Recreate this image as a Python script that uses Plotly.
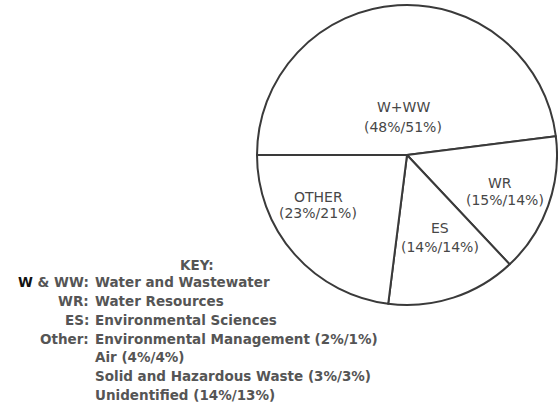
import plotly.graph_objects as go

# ---- data ----
categories = ["W+WW", "WR", "ES", "OTHER"]
share_first = [48, 15, 14, 23]
share_second = [51, 14, 14, 21]

key_abbr = ["W & WW", "WR", "ES", "Other"]
key_desc = ["Water and Wastewater", "Water Resources", "Environmental Sciences"]
other_items = ["Environmental Management", "Air", "Solid and Hazardous Waste", "Unidentified"]
other_first = [2, 4, 3, 14]
other_second = [1, 4, 3, 13]

W, H = 558, 406


def px(x):
    return x / W


def py(y):
    return 1 - y / H


# pie geometry (pixels)
cx, cy, r = 407, 155, 150

fig = go.Figure()
fig.add_trace(go.Pie(
    labels=categories,
    values=share_first,
    sort=False,
    direction="clockwise",
    rotation=270,
    textinfo="none",
    hoverinfo="label+percent",
    marker=dict(colors=["white"] * len(categories), line=dict(color="#3a3a3a", width=2)),
    domain=dict(x=[px(cx - r), px(cx + r)], y=[py(cy + r), py(cy - r)]),
    showlegend=False,
))

label_font = dict(family="DejaVu Sans, sans-serif", size=14, color="#474747")
# label positions in pixels: (name_x, name_y, pct_x, pct_y)
label_pos = {
    "W+WW": (403, 107, 403, 127),
    "WR": (500, 183, 505, 200),
    "ES": (440, 228, 440, 247),
    "OTHER": (318, 197, 318, 213),
}
annotations = []
for cat, a, b in zip(categories, share_first, share_second):
    nx, ny, qx, qy = label_pos[cat]
    annotations.append(dict(x=px(nx), y=py(ny), xref="paper", yref="paper", text=cat,
                            showarrow=False, font=label_font, xanchor="center", yanchor="middle"))
    annotations.append(dict(x=px(qx), y=py(qy), xref="paper", yref="paper", text=f"({a}%/{b}%)",
                            showarrow=False, font=label_font, xanchor="center", yanchor="middle"))

key_font = dict(family="DejaVu Sans, sans-serif", size=13.5, color="#555555", weight="bold")
annotations.append(dict(x=px(197), y=py(265), xref="paper", yref="paper", text="KEY:",
                        showarrow=False, font=key_font, xanchor="center", yanchor="middle"))

row_y = [282, 301, 320, 339, 357, 376, 395]
colon_x = 91
desc_x = 93
abbr_text = ["<span style='color:#111111'>W</span> & WW:"] + [a + ":" for a in key_abbr[1:]]
desc_text = key_desc + [f"{n} ({a}%/{b}%)" for n, a, b in zip(other_items, other_first, other_second)]
for i, t in enumerate(abbr_text):
    annotations.append(dict(x=px(colon_x), y=py(row_y[i]), xref="paper", yref="paper", text=t,
                            showarrow=False, font=key_font, xanchor="right", yanchor="middle"))
for i, t in enumerate(desc_text):
    annotations.append(dict(x=px(desc_x), y=py(row_y[i]), xref="paper", yref="paper", text=t,
                            showarrow=False, font=key_font, xanchor="left", yanchor="middle"))

fig.update_layout(
    width=W, height=H,
    margin=dict(l=0, r=0, t=0, b=0),
    paper_bgcolor="white",
    plot_bgcolor="white",
    annotations=annotations,
)

fig.write_html("out.html", config={"displayModeBar": False},
               post_script="document.body.style.margin='0';document.body.style.overflow='hidden';")
